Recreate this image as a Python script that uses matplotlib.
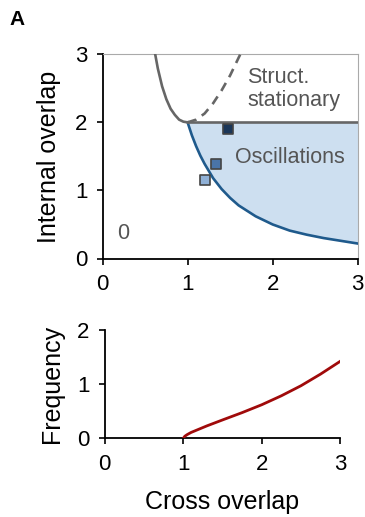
import matplotlib
matplotlib.use("Agg")
import matplotlib.pyplot as plt

plt.rcParams.update({"font.family": ["Liberation Sans", "DejaVu Sans"], "font.size": 16})
INK, GREY, SPINE = "#000000", "#666666", "#aaaaaa"
BLUE, FILL, RED = "#1f5a8c", "#cddff0", "#a00a0a"

# phase boundaries in the (cross overlap, internal overlap) plane
stat_x = [0.61, 0.65, 0.70, 0.75, 0.80, 0.85, 0.90, 0.95, 1.00]
stat_y = [3.06, 2.79, 2.53, 2.34, 2.20, 2.11, 2.04, 2.01, 2.00]
unst_x = [1.00, 1.10, 1.20, 1.30, 1.40, 1.50, 1.60, 1.62]
unst_y = [2.00, 2.04, 2.13, 2.28, 2.47, 2.69, 2.95, 3.00]
osc_x = [1.0, 1.05, 1.1, 1.15, 1.2, 1.3, 1.4, 1.5, 1.6, 1.8, 2.0, 2.2, 2.4, 2.6, 2.8, 3.0]
osc_y = [2.00, 1.81, 1.65, 1.51, 1.39, 1.18, 1.02, 0.89, 0.78, 0.62, 0.50, 0.41, 0.35, 0.30, 0.26, 0.22]
top_y = 2.0

# example networks
pt_x = [1.21, 1.33, 1.47]
pt_y = [1.16, 1.39, 1.90]
pt_c = ["#8fb0d6", "#4a74a8", "#1b3658"]

# oscillation frequency vs cross overlap
fr_x = [1.0, 1.02, 1.05, 1.1, 1.2, 1.3, 1.4, 1.5, 1.75, 2.0, 2.25, 2.5, 2.75, 3.0]
fr_y = [0.0, 0.04, 0.07, 0.11, 0.17, 0.23, 0.285, 0.34, 0.475, 0.62, 0.785, 0.97, 1.185, 1.42]

fig = plt.figure(figsize=(3.65, 5.17), dpi=100)
ax = fig.add_axes([0.281, 0.500, 0.699, 0.395])
bx = fig.add_axes([0.287, 0.152, 0.645, 0.210])

ax.fill_between(osc_x, osc_y, top_y, color=FILL, lw=0, zorder=1)
ax.plot(osc_x, osc_y, color=BLUE, lw=1.9, zorder=3)
ax.plot(stat_x, stat_y, color=GREY, lw=1.9, zorder=3)
ax.plot(unst_x, unst_y, color=GREY, lw=1.9, ls=(0, (3.5, 2.5)), zorder=3)
ax.plot([1.0, 3.0], [top_y, top_y], color=GREY, lw=1.9, zorder=3)
for x, y, c in zip(pt_x, pt_y, pt_c):
    ax.scatter(x, y, s=42, marker="s", color=c, edgecolors="#444444", linewidths=1.2, zorder=4)

ax.text(1.70, 2.49, "Struct.\nstationary", color="#555555", fontsize=15.5,
        ha="left", va="center", linespacing=1.15)
ax.text(1.56, 1.49, "Oscillations", color="#555555", fontsize=15.5, ha="left", va="center")
ax.text(0.245, 0.37, "0", color="#555555", fontsize=15.5, ha="center", va="center")

ax.set_xlim(0, 3); ax.set_ylim(0, 3)
ax.set_xticks([0, 1, 2, 3]); ax.set_yticks([0, 1, 2, 3])
ax.set_ylabel("Internal overlap", fontsize=18, labelpad=10)
for s in ["top", "right"]: ax.spines[s].set_color(SPINE)
for s in ["left", "bottom"]: ax.spines[s].set_linewidth(1.3)

bx.plot(fr_x, fr_y, color=RED, lw=2.0, zorder=3)
bx.set_xlim(0, 3); bx.set_ylim(0, 2)
bx.set_xticks([0, 1, 2, 3]); bx.set_yticks([0, 1, 2])
bx.set_ylabel("Frequency", fontsize=18, labelpad=9)
bx.set_xlabel("Cross overlap", fontsize=18, labelpad=11)
for s in ["top", "right"]: bx.spines[s].set_visible(False)
for s in ["left", "bottom"]: bx.spines[s].set_linewidth(1.3)

for a in (ax, bx):
    a.tick_params(length=4, width=1.2, labelsize=16, pad=7)

fig.text(0.025, 0.962, "A", fontsize=15, fontweight="bold", ha="left", va="center")
fig.savefig("out.png", dpi=100)
